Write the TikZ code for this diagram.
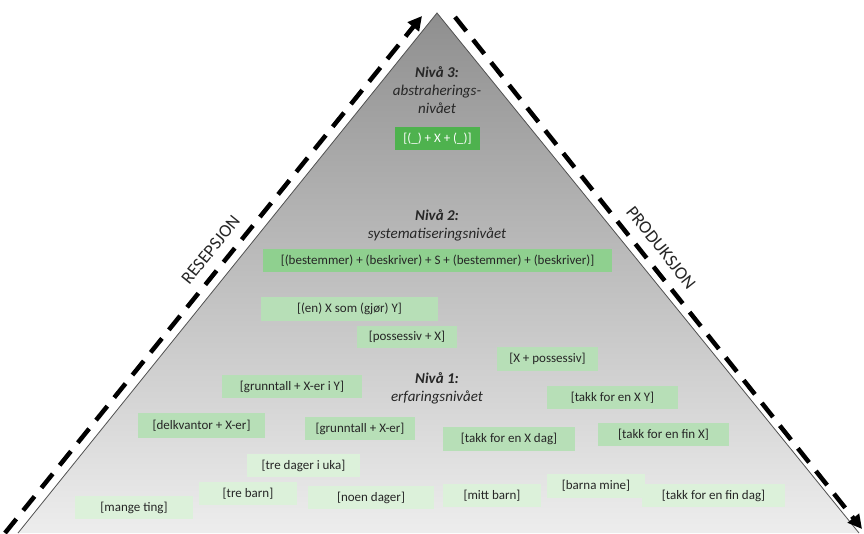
\documentclass[tikz,border=0pt]{standalone}
\usepackage{fontspec}
\setmainfont{Carlito}
\usetikzlibrary{positioning}
\usetikzlibrary{arrows.meta}

\definecolor{ink}{HTML}{262626}
\definecolor{nivaatre}{HTML}{4EB24E}
\definecolor{nivaato}{HTML}{8FD08F}
\definecolor{nivaaen}{HTML}{B7DFB7}
\definecolor{grunnlag}{HTML}{DCF1DA}

\tikzset{
  konstr/.style={fill=#1, text=ink, inner sep=0pt, minimum height=23pt, font=\fontsize{13}{15}\selectfont},
  nivaatekst/.style={align=center, text=ink, font=\fontsize{15}{18}\selectfont\itshape},
  flyt/.style={line width=4.5pt, dash pattern=on 18pt off 11pt, -{Triangle[length=14pt,width=14pt]}},
  sidetekst/.style={font=\fontsize{18}{20}\selectfont, text=ink, inner sep=0pt}
}

\begin{document}
\begin{tikzpicture}[x=1pt,y=-1pt]
  \useasboundingbox (0,0) rectangle (864,533);
  % pyramiden
  \shade [top color=black!44, middle color=black!19, bottom color=black!7] (437,13) -- (859,533) -- (18,533) -- cycle;
  \draw [ink!80, line width=0.8pt] (18,533) -- (437,13) -- (859,533);

  % nivaa 3
  \node (nivaa3) [nivaatekst] at (437,90) {\textbf{Nivå 3:}\\abstraherings-\\nivået};
  \node (tomX) [konstr=nivaatre, text=white, minimum width=85pt] at (437.5,138.5) {[(\_) + X + (\_)]};

  % nivaa 2
  \node (nivaa2) [nivaatekst] at (437,225.5) {\textbf{Nivå 2:}\\systematiseringsnivået};
  \node (setning) [konstr=nivaato, minimum width=349pt] at (437.5,260.5) {[(bestemmer) + (beskriver) + S + (bestemmer) + (beskriver)]};

  % nivaa 1
  \node (nivaa1) [nivaatekst] at (437,388) {\textbf{Nivå 1:}\\erfaringsnivået};
  \node (enXsom) [konstr=nivaaen, minimum width=177pt, minimum height=24pt] at (349.5,309) {[(en) X som (gjør) Y]};
  \node (possX) [konstr=nivaaen, minimum width=100pt, minimum height=22pt] at (407,337) {[possessiv + X]};
  \node (Xposs) [konstr=nivaaen, minimum width=101pt, minimum height=24pt] at (547.5,359) {[X + possessiv]};
  \node (grunnY) [konstr=nivaaen, minimum width=140pt] at (292,386.5) {[grunntall + X-er i Y]};
  \node (takkXY) [konstr=nivaaen, minimum width=131pt] at (612.5,397.5) {[takk for en X Y]};
  \node (delkv) [konstr=nivaaen, minimum width=127pt, minimum height=25pt] at (201.5,425.5) {[delkvantor + X-er]};
  \node (grunnX) [konstr=nivaaen, minimum width=110pt] at (360,428.5) {[grunntall + X-er]};
  \node (takkXdag) [konstr=nivaaen, minimum width=132pt, minimum height=24pt] at (509,439) {[takk for en X dag]};
  \node (takkfinX) [konstr=nivaaen, minimum width=131pt] at (663.5,434.5) {[takk for en fin X]};

  % konkrete uttrykk
  \node (treuka) [konstr=grunnlag, minimum width=113pt] at (303.5,465.5) {[tre dager i uka]};
  \node (trebarn) [konstr=grunnlag, minimum width=98pt] at (248,493.5) {[tre barn]};
  \node (noen) [konstr=grunnlag, minimum width=126pt] at (371,497.5) {[noen dager]};
  \node (mange) [konstr=grunnlag, minimum width=118pt] at (134,507.5) {[mange ting]};
  \node (mitt) [konstr=grunnlag, minimum width=98pt] at (492,495.5) {[mitt barn]};
  \node (barna) [konstr=grunnlag, minimum width=98pt, minimum height=24pt] at (596,486) {[barna mine]};
  \node (takkdag) [konstr=grunnlag, minimum width=143pt] at (713.5,495.5) {[takk for en fin dag]};

  % piler langs sidene
  \coordinate (resStart) at (5,533);
  \coordinate (resSlutt) at (422,16);
  \coordinate (prodStart) at (455,17);
  \coordinate (prodSlutt) at (862,529);
  \draw [flyt] (resStart) -- node (resepsjon) [sloped, above=9.5pt, sidetekst, pos=0.526] {RESEPSJON} (resSlutt);
  \draw [flyt] (prodStart) -- node (produksjon) [sloped, above=9.5pt, sidetekst, pos=0.472] {PRODUKSJON} (prodSlutt);
\end{tikzpicture}
\end{document}
